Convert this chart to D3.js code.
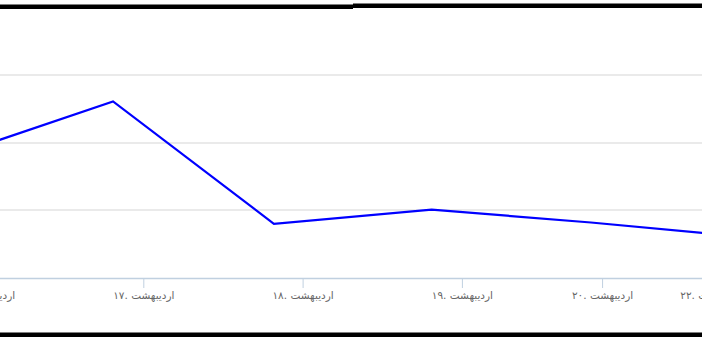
<!DOCTYPE html>
<html>
<head>
<meta charset="utf-8">
<script src="https://cdn.jsdelivr.net/npm/d3@7"></script>
<style>
  html, body { margin: 0; padding: 0; background: #fff; }
  svg { display: block; }
</style>
</head>
<body>
<div id="chart"></div>
<script>
// days (fractional, point times) and the series values
var days = [15.81, 16.81, 17.82, 18.81, 19.81, 20.81];
var values = [181, 261, 80, 101, 82, 60];

// x-axis tick positions (day units) and their labels
var tickDays = [16, 17, 18, 19, 19.88, 20.56];
var tickLabels = ['۱۶. اردیبهشت', '۱۷. اردیبهشت', '۱۸. اردیبهشت', '۱۹. اردیبهشت', '۲۰. اردیبهشت', '۲۲. اردیبهشت'];

// y grid values
var gridValues = [100, 200, 300, 400];

var width = 702, height = 340;

var svg = d3.select('#chart').append('svg')
	.attr('width', width)
	.attr('height', height);

// plot area runs past both edges of the picture
var x = d3.scaleLinear()
	.domain([15, 21])
	.range([-175.3, 780.5]);

var y = d3.scaleLinear()
	.domain([0, 400])
	.range([278, 7.3]);

var plot = svg.append('g');

// grid lines
plot.selectAll('line.grid')
	.data(gridValues)
	.enter().append('line')
	.attr('class', 'grid')
	.attr('x1', 0)
	.attr('x2', width)
	.attr('y1', function(d) { return Math.round(y(d)); })
	.attr('y2', function(d) { return Math.round(y(d)); })
	.style('stroke', '#e3e3e3')
	.style('stroke-width', 1.6);

// x axis
var xAxis = d3.axisBottom(x)
	.tickValues(tickDays)
	.tickSize(10)
	.tickSizeOuter(0)
	.tickFormat(function(d, i) { return tickLabels[i]; });

var axisG = plot.append('g')
	.attr('transform', 'translate(0,' + y(0) + ')')
	.call(xAxis);

axisG.select('.domain')
	.style('stroke', '#c0d0e0')
	.style('stroke-width', 1.6);

axisG.selectAll('.tick line')
	.style('stroke', '#c0d0e0')
	.style('stroke-width', 1);

axisG.selectAll('.tick text')
	.attr('y', 14)
	.attr('direction', 'ltr')
	.style('font-family', '"DejaVu Sans", sans-serif')
	.style('font-size', '10.5px')
	.style('fill', '#666');

// the series line
var line = d3.line()
	.x(function(d, i) { return x(days[i]); })
	.y(function(d) { return y(d); });

plot.append('path')
	.datum(values)
	.attr('d', line)
	.style('fill', 'none')
	.style('stroke', '#0000ff')
	.style('stroke-width', 2.2)
	.style('stroke-linejoin', 'miter');

// page separators top and bottom
svg.append('rect')
	.attr('x', 0).attr('y', 4.5)
	.attr('width', 353).attr('height', 4.5)
	.style('fill', '#000');

svg.append('rect')
	.attr('x', 353).attr('y', 3.5)
	.attr('width', width - 353).attr('height', 4.5)
	.style('fill', '#000');

svg.append('rect')
	.attr('x', 0).attr('y', 332.5)
	.attr('width', width).attr('height', 4.5)
	.style('fill', '#000');
</script>
</body>
</html>
